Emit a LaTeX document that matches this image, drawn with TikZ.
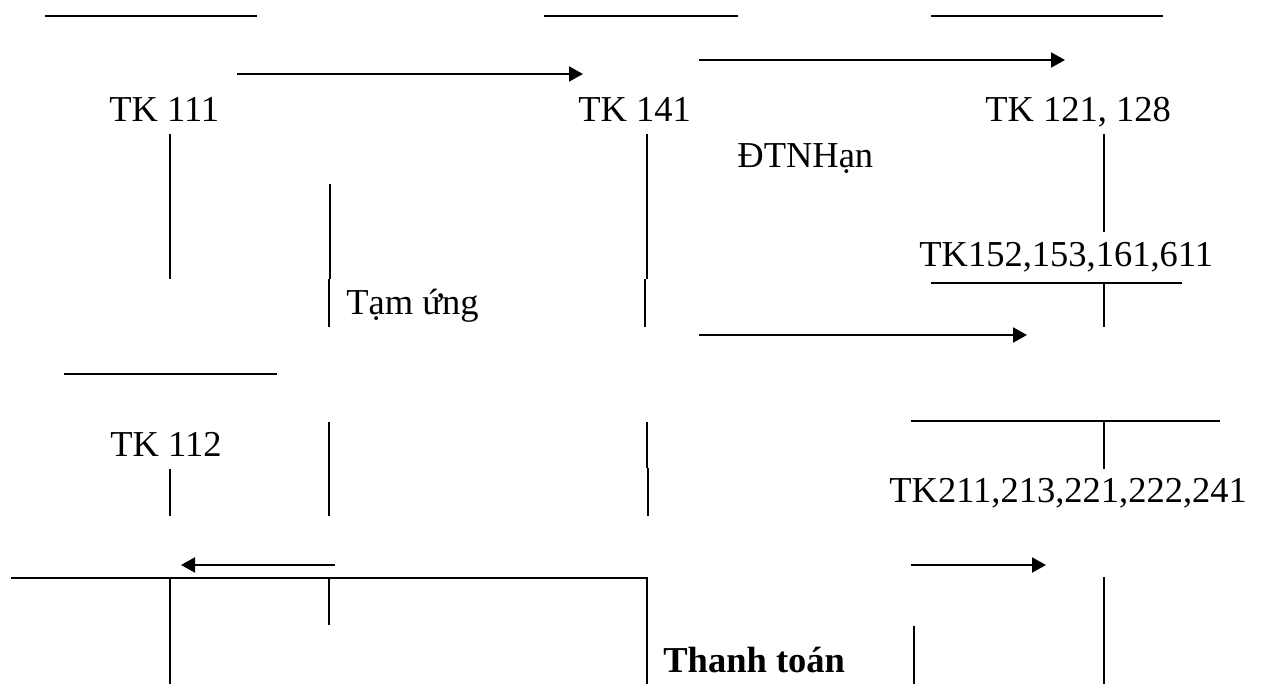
\documentclass[tikz,border=0pt]{standalone}
\usepackage{fontspec}
\setmainfont{Liberation Serif}
\usetikzlibrary{arrows.meta}
\tikzset{
  acc/.style={line width=1pt},
  flow/.style={line width=1pt,-{Triangle[length=7pt,width=7.5pt]}},
  lbl/.style={inner sep=0pt,anchor=base west,font=\fontsize{18.25pt}{22pt}\selectfont},
}
\begin{document}
\begin{tikzpicture}[x=0.5pt,y=-0.5pt]
\useasboundingbox (0,0) rectangle (1266,684);
% labels
\node[lbl] (t111) at (109,122) {TK 111};
\node[lbl] (t141) at (578,122) {TK 141};
\node[lbl] (t121) at (985,122) {TK 121, 128};
\node[lbl] (dtn) at (737,168) {ĐTNHạn};
\node[lbl] (tam) at (346,315) {Tạm ứng};
\node[lbl] (t152) at (919,267) {TK152,153,161,611};
\node[lbl] (t112) at (110,457) {TK 112};
\node[lbl] (t211) at (889,503) {TK211,213,221,222,241};
\node[lbl,font=\fontsize{18.25pt}{22pt}\selectfont\bfseries] (tt) at (663,673) {Thanh toán};
% top rules
\draw[acc] (45,16) -- (257,16);
\draw[acc] (544,16) -- (738,16);
\draw[acc] (931,16) -- (1163,16);
% arrows
\coordinate (a1s) at (237,74); \coordinate (a1e) at (583,74);
\draw[flow] (a1s) -- (a1e);
\coordinate (a2s) at (699,60); \coordinate (a2e) at (1065,60);
\draw[flow] (a2s) -- (a2e);
\coordinate (a3s) at (699,335); \coordinate (a3e) at (1027,335);
\draw[flow] (a3s) -- (a3e);
\coordinate (a4s) at (335,565); \coordinate (a4e) at (181,565);
\draw[flow] (a4s) -- (a4e);
\coordinate (a5s) at (911,565); \coordinate (a5e) at (1046,565);
\draw[flow] (a5s) -- (a5e);
% TK 111 / 112 column
\draw[acc] (170,134) -- (170,279);
\draw[acc] (64,374) -- (277,374);
\draw[acc] (170,469) -- (170,516);
\draw[acc] (170,578) -- (170,684);
% x=330 column
\draw[acc] (330,184) -- (330,279);
\draw[acc] (329,279) -- (329,327);
\draw[acc] (329,422) -- (329,516);
\draw[acc] (329,578) -- (329,625);
% TK 141 column
\draw[acc] (647,134) -- (647,279);
\draw[acc] (645,279) -- (645,327);
\draw[acc] (647,422) -- (647,468);
\draw[acc] (648,468) -- (648,516);
\draw[acc] (11,578) -- (647,578) -- (647,684);
% right column
\draw[acc] (1104,134) -- (1104,232);
\draw[acc] (931,283) -- (1182,283);
\draw[acc] (1104,283) -- (1104,327);
\draw[acc] (911,421) -- (1220,421);
\draw[acc] (1104,421) -- (1104,469);
\draw[acc] (1104,577) -- (1104,684);
\draw[acc] (914,626) -- (914,684);
\end{tikzpicture}
\end{document}
